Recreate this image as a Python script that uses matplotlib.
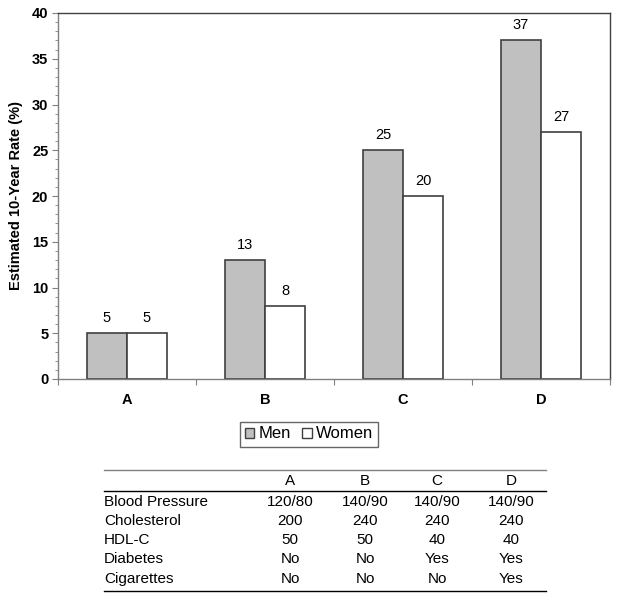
import numpy as np
import matplotlib
matplotlib.use("Agg")
from matplotlib import pyplot as plt
from matplotlib.ticker import MultipleLocator, FixedLocator
from matplotlib.patches import Patch

plt.rcParams['font.family'] = ['Liberation Sans', 'DejaVu Sans']

categories = ['A', 'B', 'C', 'D']
men = [5, 13, 25, 37]
women = [5, 8, 20, 27]

row_labels = ['Blood Pressure', 'Cholesterol', 'HDL-C', 'Diabetes', 'Cigarettes']
table_values = [
    ['120/80', '140/90', '140/90', '140/90'],
    ['200', '240', '240', '240'],
    ['50', '50', '40', '40'],
    ['No', 'No', 'Yes', 'Yes'],
    ['No', 'No', 'No', 'Yes'],
]

W, H = 624, 599
fig = plt.figure(figsize=(W / 100, H / 100), dpi=100)
ax = fig.add_axes([58 / W, 1 - 379 / H, (610 - 58) / W, (379 - 13) / H])

edge = '#404040'
x = np.arange(len(categories))
bw = 0.29
ax.bar(x - bw / 2, men, bw, color='#c0c0c0', edgecolor=edge, linewidth=1.2, label='Men')
ax.bar(x + bw / 2, women, bw, color='white', edgecolor=edge, linewidth=1.2, label='Women')
for i in range(len(categories)):
    ax.text(x[i] - bw / 2, men[i] + 0.9, str(men[i]), ha='center', va='bottom', fontsize=10.5)
    ax.text(x[i] + bw / 2, women[i] + 0.9, str(women[i]), ha='center', va='bottom', fontsize=10.5)

ax.set_xlim(-0.5, len(categories) - 0.5)
ax.set_ylim(0, 40)
ax.yaxis.set_major_locator(MultipleLocator(5))
ax.yaxis.set_minor_locator(MultipleLocator(1))
ax.tick_params(axis='y', which='major', direction='out', length=4, color='#808080', labelsize=10.5, pad=3)
ax.tick_params(axis='y', which='minor', direction='out', length=2, color='#808080')
for lab in ax.get_yticklabels():
    lab.set_fontweight('bold')

# category ticks sit at group boundaries, labels in the middle
ax.xaxis.set_major_locator(FixedLocator(np.arange(-0.5, len(categories), 1.0)))
ax.xaxis.set_major_formatter(plt.NullFormatter())
ax.tick_params(axis='x', which='major', direction='out', length=4, color='#808080')
for i, c in enumerate(categories):
    ax.text(x[i], -2.3, c, ha='center', va='center', fontsize=10.5, fontweight='bold')

for s in ax.spines.values():
    s.set_color('#808080')
    s.set_linewidth(1.0)
ax.spines['top'].set_color('#404040')
ax.spines['right'].set_color('#404040')

ax.set_ylabel('Estimated 10-Year Rate (%)', fontsize=10.5, fontweight='bold', labelpad=6)

handles = [Patch(facecolor='#c0c0c0', edgecolor=edge, label='Men'),
           Patch(facecolor='white', edgecolor=edge, label='Women')]
fig.legend(handles=handles, loc='center', bbox_to_anchor=(309 / W, 1 - 434 / H), ncol=2,
           frameon=True, fancybox=False, edgecolor='#404040', fontsize=12,
           handlelength=0.55, handleheight=0.55, handletextpad=0.25, columnspacing=0.7,
           borderpad=0.3, borderaxespad=0)

# table below the chart
tx0, tx1 = 104 / W, 546 / W
col_x = [290, 365, 437, 511]
line_kw = dict(color='black', linewidth=1.0, transform=fig.transFigure)
fig.add_artist(plt.Line2D([tx0, tx1], [1 - 470 / H] * 2, color='#808080', linewidth=1.0, transform=fig.transFigure))
fig.add_artist(plt.Line2D([tx0, tx1], [1 - 491 / H] * 2, **line_kw))
fig.add_artist(plt.Line2D([tx0, tx1], [1 - 591 / H] * 2, **line_kw))
for j, c in enumerate(categories):
    fig.text(col_x[j] / W, 1 - 481 / H, c, ha='center', va='center', fontsize=11)
row_y = [502, 521, 540, 559, 579]
for r, lab in enumerate(row_labels):
    fig.text(tx0, 1 - row_y[r] / H, lab, ha='left', va='center', fontsize=11)
    for j in range(len(categories)):
        fig.text(col_x[j] / W, 1 - row_y[r] / H, table_values[r][j], ha='center', va='center', fontsize=11)

fig.savefig('out.png', dpi=100)
